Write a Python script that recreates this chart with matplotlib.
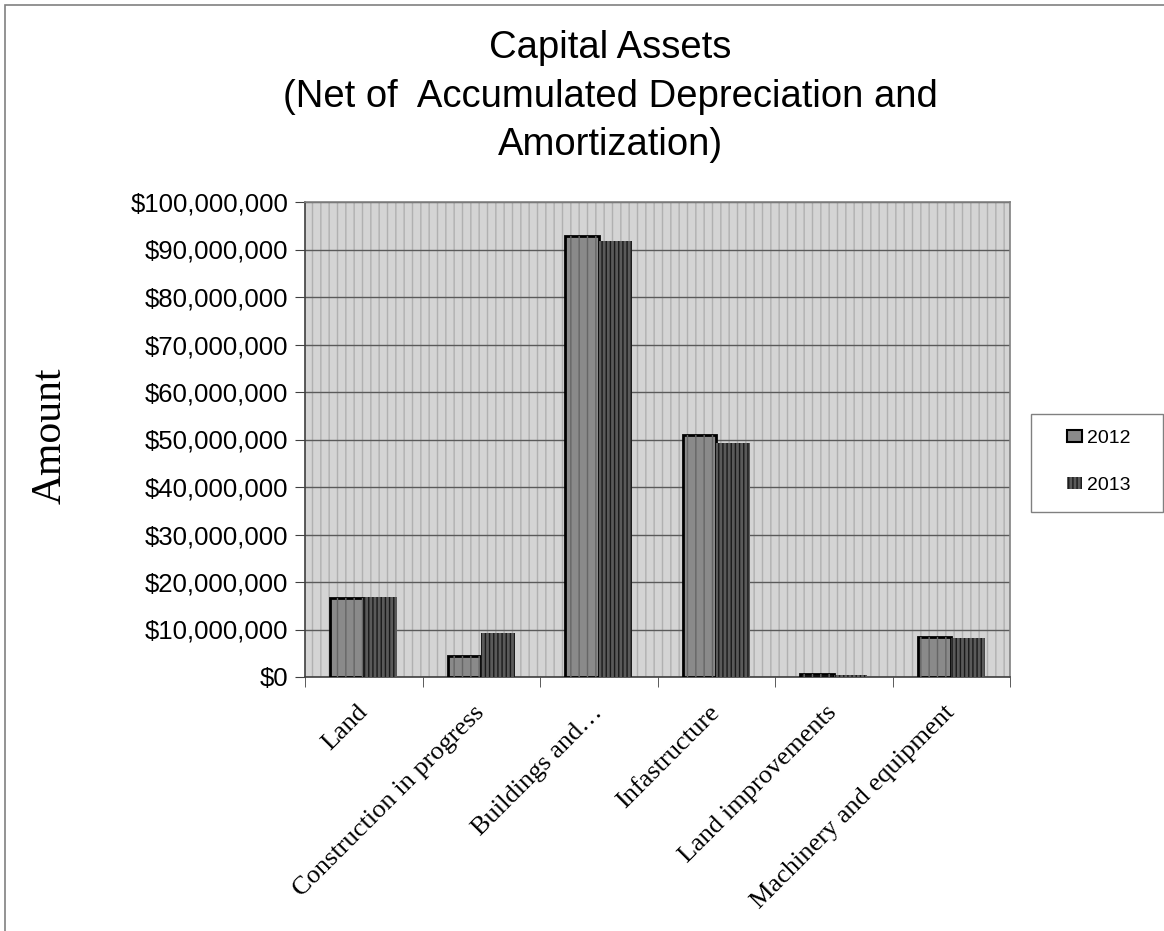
import numpy as np
import matplotlib
matplotlib.use("Agg")
import matplotlib.pyplot as plt
from matplotlib.patches import Rectangle, Patch
from matplotlib.ticker import FuncFormatter, MultipleLocator

categories = ["Land", "Construction in progress", "Buildings and…", "Infastructure",
              "Land improvements", "Machinery and equipment"]
series_names = ["2012", "2013"]
values_2012 = [16.6e6, 4.4e6, 92.8e6, 50.9e6, 0.6e6, 8.4e6]
values_2013 = [16.8e6, 9.3e6, 91.8e6, 49.2e6, 0.4e6, 8.2e6]

W, H = 1164, 931
fig = plt.figure(figsize=(W / 100, H / 100), dpi=100)
plt.rcParams['hatch.linewidth'] = 1.0

ax = fig.add_axes([305 / W, 1 - 677 / H, (1010 - 305) / W, (677 - 202) / H])
ax.set_facecolor('#d4d4d4')
bg = Rectangle((0, 0), 1, 1, transform=ax.transAxes, facecolor='none',
               edgecolor='#b0b0b0', hatch='||', linewidth=0, zorder=0)
ax.add_patch(bg)

x = np.arange(len(categories))
bw = 0.286
ax.bar(x - bw / 2, values_2012, width=bw, facecolor='#8a8a8a', edgecolor='#000000',
       linewidth=2, zorder=3)
ax.bar(x - bw / 2, values_2012, width=bw, facecolor='none', edgecolor='#666666',
       hatch='||', linewidth=0, zorder=3)
ax.bar(x + bw / 2, values_2013, width=bw, facecolor='#5a5a5a', edgecolor='#1a1a1a',
       hatch='||||', linewidth=0, zorder=3)

ax.set_xlim(-0.5, len(categories) - 0.5)
ax.set_ylim(0, 100e6)
ax.yaxis.set_major_locator(MultipleLocator(10e6))
ax.yaxis.set_major_formatter(FuncFormatter(lambda v, p: "${:,.0f}".format(v)))
ax.grid(axis='y', color='#5a5a5a', linewidth=1.0, zorder=1)
ax.set_axisbelow(True)

for s in ax.spines.values():
    s.set_color('#808080')
    s.set_linewidth(1.2)
ax.spines['left'].set_color('#404040')
ax.spines['bottom'].set_color('#404040')

ax.set_xticks(x)
ax.set_xticklabels(categories, rotation=45, ha='right', va='center',
                   rotation_mode='anchor', fontfamily='Liberation Serif', fontsize=19)
ax.set_xticks(np.arange(-0.5, len(categories)), minor=True)
ax.tick_params(axis='x', which='major', length=0, pad=23)
ax.tick_params(axis='x', which='minor', length=7, color='#404040', direction='out')
ax.tick_params(axis='y', length=7, color='#404040', direction='out', pad=5)
for lab in ax.get_yticklabels():
    lab.set_fontfamily('Liberation Sans')
    lab.set_fontsize(18.5)

fig.text(50 / W, 1 - 436 / H, "Amount", rotation=90, ha='center', va='center',
         fontfamily='Liberation Serif', fontsize=30)

fig.text(610 / W, 1 - 30 / H,
         "Capital Assets\n(Net of  Accumulated Depreciation and\nAmortization)",
         ha='center', va='top', fontfamily='Liberation Sans', fontsize=27.5,
         linespacing=1.45)

handles = [Patch(facecolor='#8a8a8a', edgecolor='#000000', linewidth=1.5, label=series_names[0]),
           Patch(facecolor='#5a5a5a', edgecolor='#1a1a1a', hatch='||||', linewidth=0,
                 label=series_names[1])]
leg = fig.legend(handles=handles, loc='center left',
                 bbox_to_anchor=(1067 / W, 1 - 462 / H), frameon=False,
                 prop={'family': 'Liberation Sans', 'size': 14},
                 handlelength=0.75, handleheight=0.6, handletextpad=0.3,
                 labelspacing=1.55, borderpad=0, borderaxespad=0)

fig.patches.append(Rectangle((1031 / W, 1 - 512 / H), (1163 - 1031) / W, (512 - 414) / H,
                             transform=fig.transFigure, facecolor='none',
                             edgecolor='#808080', linewidth=1.0))
fig.patches.append(Rectangle((5 / W, -0.01), 1.02, 1 - 5 / H + 0.01,
                             transform=fig.transFigure, facecolor='none',
                             edgecolor='#808080', linewidth=1.2))

fig.savefig("out.png", dpi=100)
